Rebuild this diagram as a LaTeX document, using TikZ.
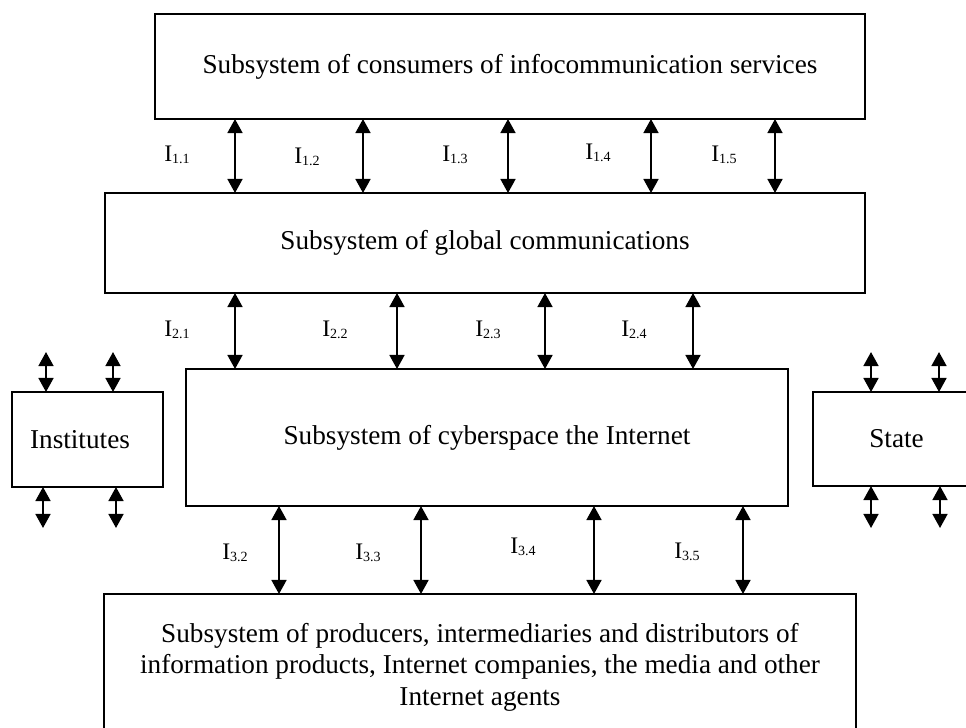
\documentclass[tikz,border=0pt]{standalone}
\usepackage{fontspec}
\setmainfont{Liberation Serif}
\usetikzlibrary{arrows.meta}

\newcommand{\lbl}[1]{{\fontsize{13.5}{13.5}\selectfont I\raisebox{-1.4pt}{\fontsize{8}{8}\selectfont #1}}}

\begin{document}
\begin{tikzpicture}[x=0.02cm, y=-0.02cm,
    box/.style={draw, line width=0.9pt, inner sep=0pt, outer sep=0pt,
      font=\fontsize{15.5}{17.9}\selectfont, align=center},
    biarrow/.style={line width=1.1pt,
      {Triangle[width=8.5pt,length=8pt]}-{Triangle[width=8.5pt,length=8pt]}}]
    \useasboundingbox (0,0) rectangle (966,727);

    % Main subsystems, top to bottom
    \node[box, minimum width=14.2cm, minimum height=2.1cm] (cons) at (510,66.5)
        {Subsystem of consumers of infocommunication services};
    \node[box, minimum width=15.2cm, minimum height=2cm] (glob) at (485,243)
        {Subsystem of global communications};
    \node[box, minimum width=12.04cm, minimum height=2.74cm] (cyber) at (487,437.5)
        {Subsystem of cyberspace the Internet};
    \node[box, minimum width=15.04cm, minimum height=2.92cm] (prod) at (480,667)
        {Subsystem of producers, intermediaries and distributors of\\
         information products, Internet companies, the media and other\\
         Internet agents};

    % Side boxes
    \node[box, minimum width=3.02cm, minimum height=1.9cm] (inst) at (87.5,439.5)
        {Institutes\hspace{0.3cm}};
    \node[box, minimum width=3.34cm, minimum height=1.88cm] (state) at (896.5,439) {State};

    % Interfaces I1
    \foreach \x in {235,363,508,651,775}
        \draw[biarrow] (cons.south -| \x,0) -- (glob.north -| \x,0);
    \node (l11) at (177,155) {\lbl{1.1}};
    \node (l12) at (307,157) {\lbl{1.2}};
    \node (l13) at (455,155) {\lbl{1.3}};
    \node (l14) at (598,153) {\lbl{1.4}};
    \node (l15) at (724,155) {\lbl{1.5}};

    % Interfaces I2
    \foreach \x in {235,397,545,693}
        \draw[biarrow] (glob.south -| \x,0) -- (cyber.north -| \x,0);
    \node (l21) at (177,330) {\lbl{2.1}};
    \node (l22) at (335,330) {\lbl{2.2}};
    \node (l23) at (488,330) {\lbl{2.3}};
    \node (l24) at (634,330) {\lbl{2.4}};

    % Interfaces I3
    \foreach \x in {279,421,594,743}
        \draw[biarrow] (cyber.south -| \x,0) -- (prod.north -| \x,0);
    \node (l32) at (235,553) {\lbl{3.2}};
    \node (l33) at (368,553) {\lbl{3.3}};
    \node (l34) at (523,547) {\lbl{3.4}};
    \node (l35) at (687,552) {\lbl{3.5}};

    % Short links of the side boxes
    \foreach \x in {46,113}
        \draw[biarrow] (inst.north -| \x,0) -- ++(0,-40);
    \foreach \x in {43,116}
        \draw[biarrow] (inst.south -| \x,0) -- ++(0,41);
    \foreach \x in {871,939}
        \draw[biarrow] (state.north -| \x,0) -- ++(0,-40);
    \foreach \x in {871,940}
        \draw[biarrow] (state.south -| \x,0) -- ++(0,42);
\end{tikzpicture}
\end{document}
